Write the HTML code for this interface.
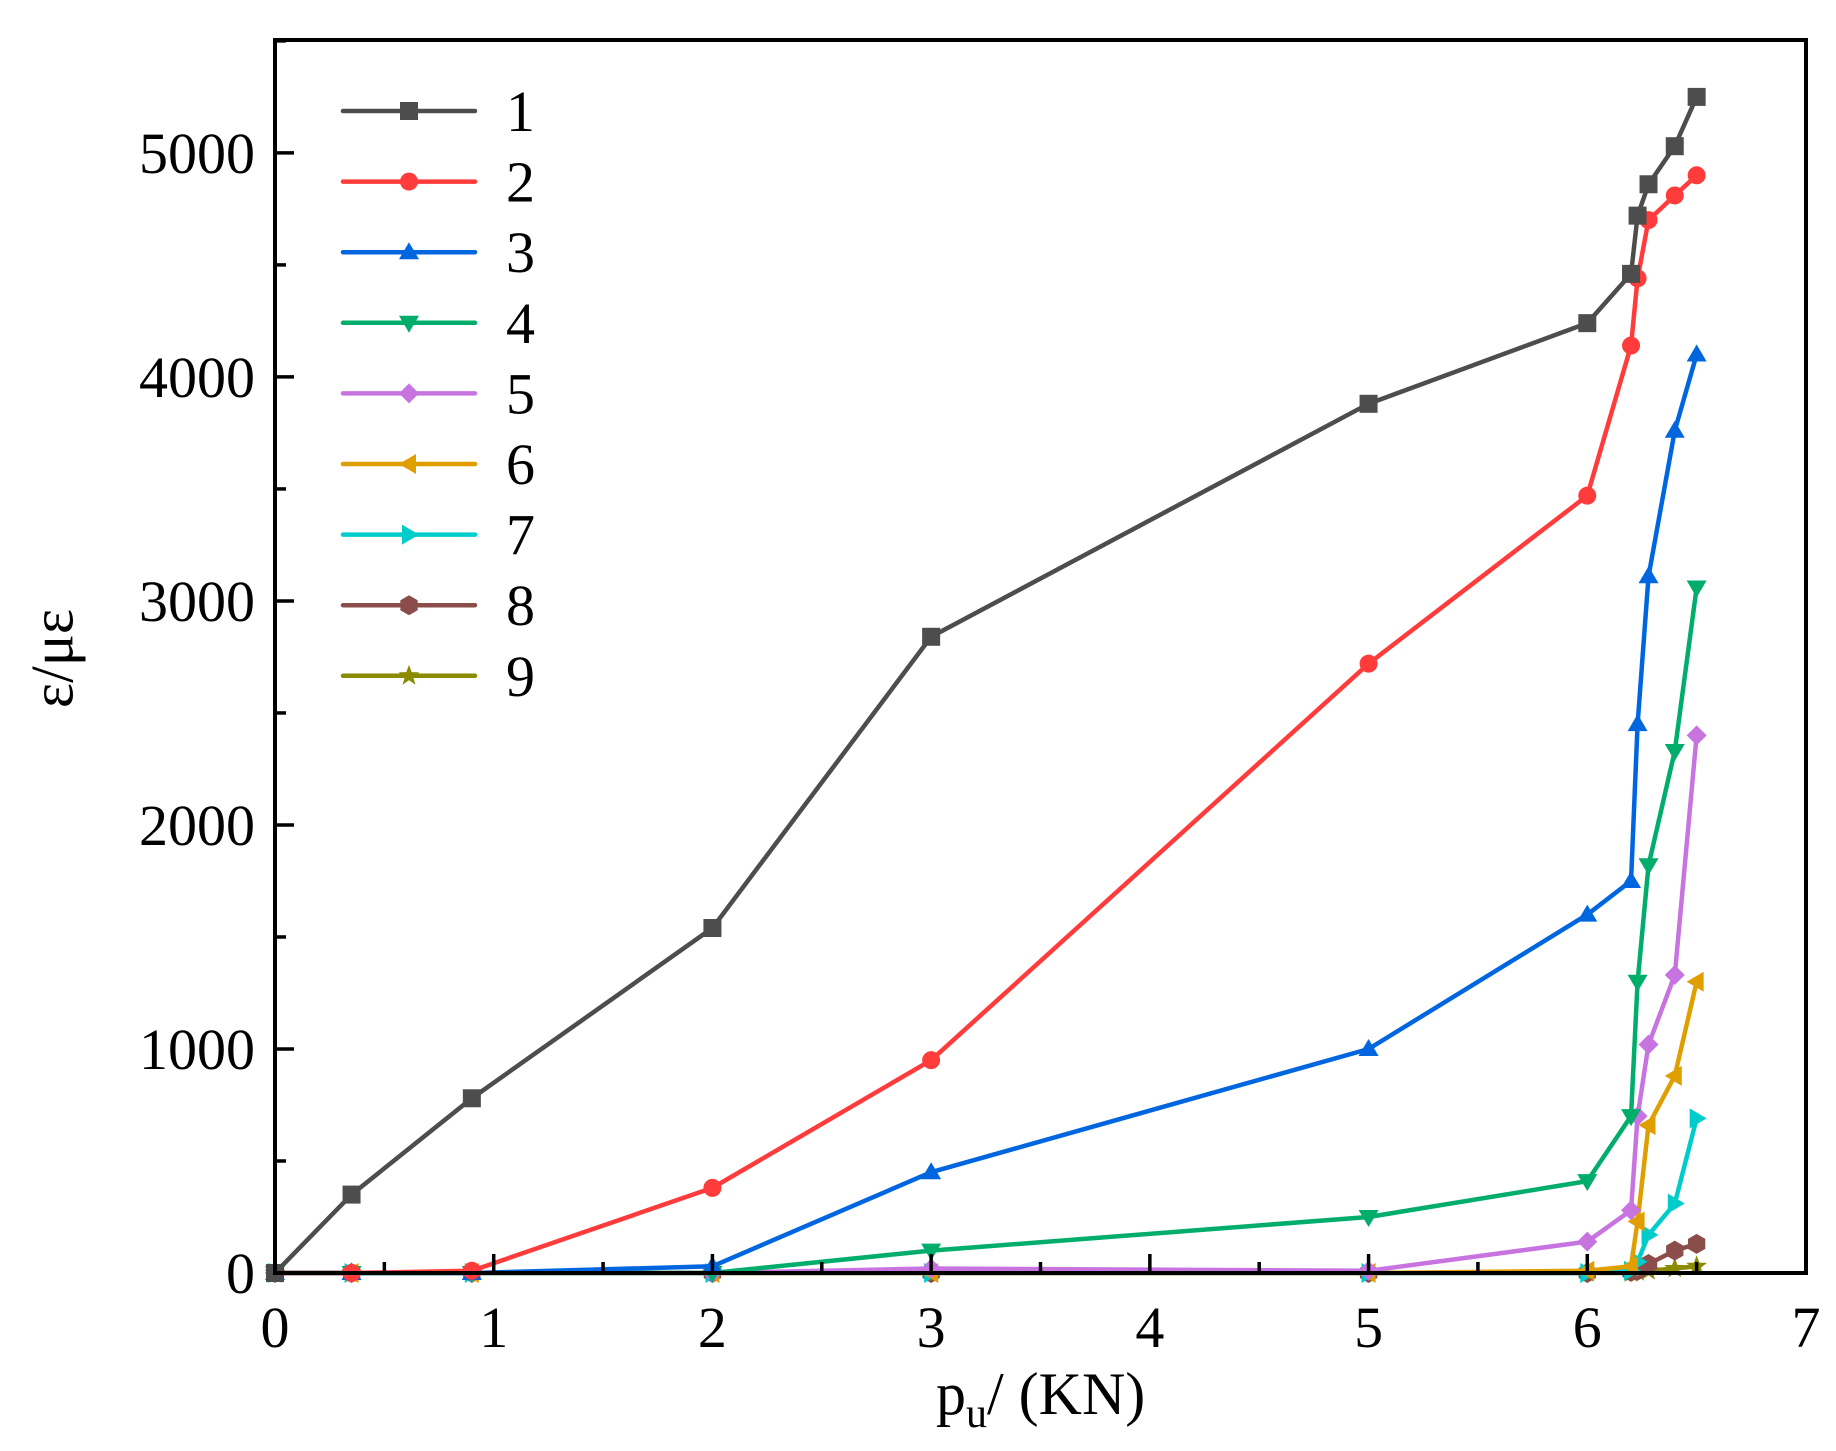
<!DOCTYPE html>
<html><head><meta charset="utf-8"><style>
html,body{margin:0;padding:0;background:#fff;}
svg{display:block;font-family:"Liberation Serif","Times New Roman",serif;}
</style></head><body>
<svg id="chart" width="1836" height="1451" viewBox="0 0 1836 1451" xmlns="http://www.w3.org/2000/svg"></svg>
<script>
const xValues = [0, 0.35, 0.9, 2, 3, 5, 6, 6.2, 6.23, 6.28, 6.4, 6.5];
const s1 = [0, 350, 780, 1540, 2840, 3880, 4240, 4460, 4720, 4860, 5030, 5250];
const s2 = [0, 0, 10, 380, 950, 2720, 3470, 4140, 4440, 4700, 4810, 4900];
const s3 = [0, 0, 0, 30, 450, 1000, 1600, 1750, 2450, 3110, 3760, 4100];
const s4 = [0, 0, 0, 0, 100, 250, 410, 700, 1300, 1820, 2330, 3060];
const s5 = [0, 0, 0, 0, 20, 10, 140, 280, 700, 1020, 1330, 2400];
const s6 = [0, 0, 0, 0, 0, 0, 10, 30, 230, 660, 880, 1300];
const s7 = [0, 0, 0, 0, 0, 0, 0, 10, 50, 170, 310, 690];
const s8 = [0, 0, 0, 0, 0, 0, 0, 5, 10, 40, 100, 130];
const s9 = [0, 0, 0, 0, 0, 0, 0, 0, 5, 10, 20, 30];
const seriesNames = ["1","2","3","4","5","6","7","8","9"];
const xTicks = [0,1,2,3,4,5,6,7];
const yTicks = [0,1000,2000,3000,4000,5000];

const series = [s1,s2,s3,s4,s5,s6,s7,s8,s9];
const colors = ["#4d4d4d","#ff3b3b","#0066e0","#00ad6b","#c774e0","#e09f00","#00cccc","#8b4d4a","#8b8b00"];
const markers = ["square","circle","up","down","diamond","left","right","hex","star"];
const L=275,R=1806,T=40,B=1273, XMAX=7, YMAX=5504;
const sx = v => L + v/XMAX*(R-L);
const sy = v => B - v/YMAX*(B-T);
const svg = document.getElementById('chart');
const NS="http://www.w3.org/2000/svg";
function mk(tag, attrs, parent){const e=document.createElementNS(NS,tag);for(const k in attrs)e.setAttribute(k,attrs[k]);(parent||svg).appendChild(e);return e;}

function marker(type,x,y,c,g){
  const r=10;let e;
  if(type==="square") e=mk('rect',{x:x-r+1,y:y-r+1,width:2*r-2,height:2*r-2,fill:c},g);
  else if(type==="circle") e=mk('circle',{cx:x,cy:y,r:r-1,fill:c},g);
  else {
    let pts;
    if(type==="up") pts=[[0,-r],[r,r*0.7],[-r,r*0.7]];
    else if(type==="down") pts=[[0,r],[r,-r*0.7],[-r,-r*0.7]];
    else if(type==="left") pts=[[-r,0],[r*0.7,-r],[r*0.7,r]];
    else if(type==="right") pts=[[r,0],[-r*0.7,-r],[-r*0.7,r]];
    else if(type==="diamond") pts=[[0,-r],[r,0],[0,r],[-r,0]];
    else if(type==="hex") pts=[0,1,2,3,4,5].map(i=>[r*Math.sin(i*Math.PI/3),-r*Math.cos(i*Math.PI/3)]);
    else pts=[0,1,2,3,4,5,6,7,8,9].map(i=>{const rr=i%2?r*0.45:r+1;return [rr*Math.sin(i*Math.PI/5),-rr*Math.cos(i*Math.PI/5)];});
    e=mk('polygon',{points:pts.map(p=>(x+p[0])+','+(y+p[1])).join(' '),fill:c},g);
  }
  return e;
}

for(let i=series.length-1;i>=0;i--){
  const g=mk('g',{});
  
  
  const d=series[i].map((v,j)=>(j?'L':'M')+sx(xValues[j])+' '+sy(v)).join(' ');
  const p=mk('path',{d:d,fill:'none',stroke:colors[i],'stroke-width':4.5,'stroke-linejoin':'round'},g);
  
  
  series[i].forEach((v,j)=>{
    const m=marker(markers[i],sx(xValues[j]),sy(v),colors[i],g);
    
    
  });
}

const frame=mk('rect',{x:L,y:T,width:R-L,height:B-T,fill:'none',stroke:'#000','stroke-width':4});



for(let v=0;v<=XMAX;v+=0.5){
  const major=Number.isInteger(v);
  const t=mk('line',{x1:sx(v),x2:sx(v),y1:B,y2:B-(major?19:11),stroke:'#000','stroke-width':3.5});
  
  
}
xTicks.forEach(v=>{
  const t=mk('text',{x:sx(v),y:B+74,'text-anchor':'middle','font-size':58});
  t.textContent=v;
  
  
});
for(let v=0;v<=YMAX;v+=500){
  const major=v%1000===0;
  const t=mk('line',{x1:L,x2:L+(major?19:11),y1:sy(v),y2:sy(v),stroke:'#000','stroke-width':3.5});
  
  
}
yTicks.forEach(v=>{
  const t=mk('text',{x:L-20,y:sy(v)+20,'text-anchor':'end','font-size':58});
  t.textContent=v;
  
  
});

seriesNames.forEach((n,i)=>{
  const y=111+70.6*i;
  const g=mk('g',{});
  
  
  mk('line',{x1:343,x2:475,y1:y,y2:y,stroke:colors[i],'stroke-width':4.5,'stroke-linecap':'round'},g);
  marker(markers[i],409,y,colors[i],g);
  const t=mk('text',{x:506,y:y+20,'font-size':58},g);
  t.textContent=n;
});
</script>
<div style="position:absolute;left:936px;top:1360px;font-family:'Liberation Serif',serif;font-size:60px;white-space:nowrap;">p<sub style="font-size:42px;">u</sub>/ (KN)</div>
<div style="position:absolute;left:-12px;top:624px;width:130px;text-align:center;font-family:'Liberation Serif',serif;font-size:60px;transform:rotate(-90deg);white-space:nowrap;">ε/με</div>
</body></html>
